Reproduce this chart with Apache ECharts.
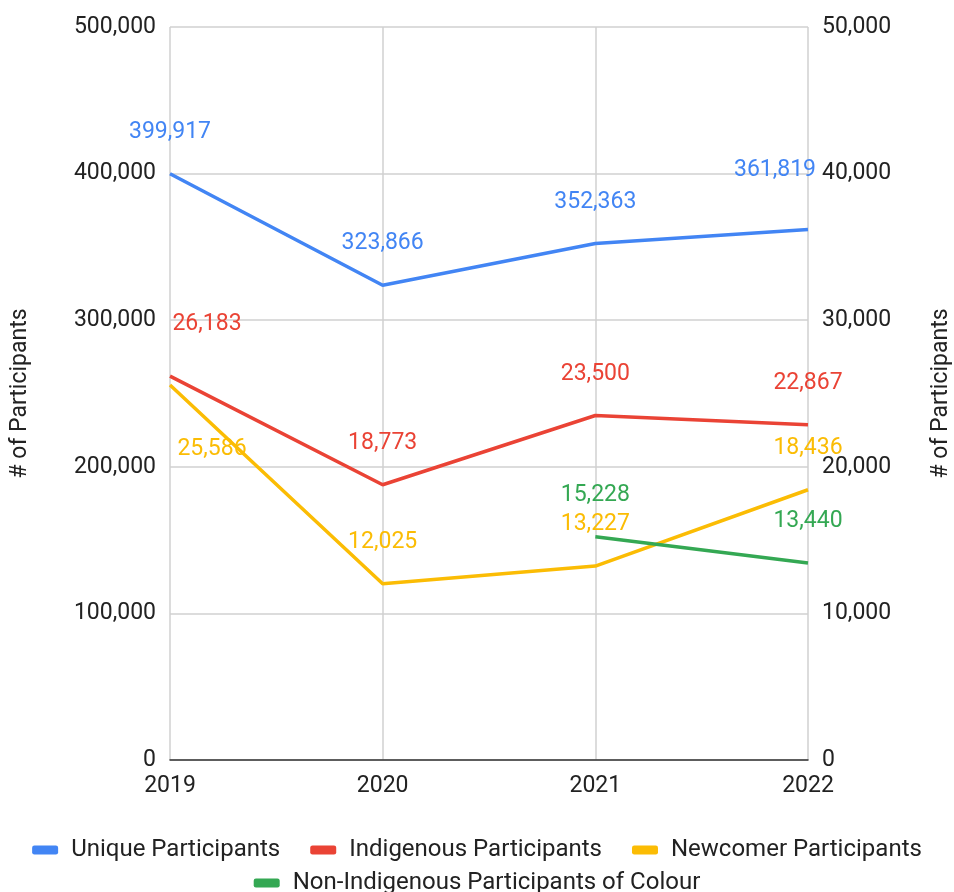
<!DOCTYPE html>
<html>
<head>
<meta charset="utf-8">
<script src="https://cdn.jsdelivr.net/npm/echarts@6/dist/echarts.min.js"></script>
<style>
html,body{margin:0;padding:0;background:#fff;overflow:hidden;}
#chart{width:954px;height:892px;}
</style>
</head>
<body>
<div id="chart"></div>
<script>
const years = ['2019', '2020', '2021', '2022'];
const uniqueParticipants = [399917, 323866, 352363, 361819];
const indigenousParticipants = [26183, 18773, 23500, 22867];
const newcomerParticipants = [25586, 12025, 13227, 18436];
const nonIndigenousPOC = [null, null, 15228, 13440];
const leftTicks = [0, 100000, 200000, 300000, 400000, 500000];
const rightTicks = [0, 10000, 20000, 30000, 40000, 50000];

// label nudges (styling only): 'seriesIndex-dataIndex' -> [dx, dy]
const labelNudges = {
  '0-3': [-33, -18],
  '1-0': [37, -10],
  '2-0': [42, 106]
};

const FONT = 'Roboto';
const fmt = v => Number(v).toLocaleString('en-US');

const colors = ['#4285F4', '#EA4335', '#FBBC04', '#34A853'];
const names = ['Unique Participants', 'Indigenous Participants', 'Newcomer Participants', 'Non-Indigenous Participants of Colour'];
const seriesValues = [uniqueParticipants, indigenousParticipants, newcomerParticipants, nonIndigenousPOC];
const axisIdx = [0, 1, 1, 1];

const el = document.getElementById('chart');
const chart = echarts.init(el, null, { renderer: 'canvas', width: 954, height: 892 });

const legendCommon = {
  orient: 'horizontal',
  icon: 'roundRect',
  itemWidth: 26,
  itemHeight: 9,
  itemGap: 30,
  textStyle: { fontFamily: FONT, fontSize: 24, color: '#222', padding: [0, 0, 0, 8] }
};

chart.setOption({
  animation: false,
  color: colors,
  grid: { left: 170, right: 146, top: 27, bottom: 132, containLabel: false, outerBoundsMode: 'none' },
  legend: [
    Object.assign({}, legendCommon, { left: 'center', top: 833, data: names.slice(0, 3) }),
    Object.assign({}, legendCommon, { left: 'center', top: 866, data: names.slice(3) })
  ],
  xAxis: {
    type: 'category',
    data: years,
    boundaryGap: false,
    axisLine: { show: true, lineStyle: { color: '#333', width: 1.5 } },
    axisTick: { show: false },
    axisLabel: { fontFamily: FONT, fontSize: 23, color: '#222', margin: 15 },
    splitLine: { show: true, lineStyle: { color: '#d0d0d0', width: 1.5 } }
  },
  yAxis: [
    {
      type: 'value', min: 0, max: 500000, interval: 100000, position: 'left',
      name: '# of Participants', nameLocation: 'middle', nameRotate: 90, nameGap: 138,
      nameTextStyle: { fontFamily: FONT, fontSize: 23, color: '#222' },
      axisLine: { show: false }, axisTick: { show: false },
      axisLabel: { fontFamily: FONT, fontSize: 23, color: '#222', margin: 14, formatter: v => fmt(v) },
      splitLine: { show: true, lineStyle: { color: '#d0d0d0', width: 1.5 } }
    },
    {
      type: 'value', min: 0, max: 50000, interval: 10000, position: 'right',
      name: '# of Participants', nameLocation: 'middle', nameRotate: 90, nameGap: 122,
      nameTextStyle: { fontFamily: FONT, fontSize: 23, color: '#222' },
      axisLine: { show: false }, axisTick: { show: false },
      axisLabel: { fontFamily: FONT, fontSize: 23, color: '#222', margin: 14, formatter: v => fmt(v) },
      splitLine: { show: false }
    }
  ],
  series: seriesValues.map((vals, si) => ({
    name: names[si],
    type: 'line',
    yAxisIndex: axisIdx[si],
    data: vals,
    showSymbol: true,
    symbol: 'circle',
    symbolSize: 0.01,
    connectNulls: false,
    lineStyle: { width: 3.5, color: colors[si] },
    itemStyle: { color: colors[si] },
    label: {
      show: true,
      position: 'top',
      distance: 30,
      fontFamily: FONT,
      fontSize: 23,
      color: colors[si],
      formatter: p => fmt(p.value)
    },
    labelLayout: function (params) {
      const n = labelNudges[params.seriesIndex + '-' + params.dataIndex];
      return n ? { dx: n[0], dy: n[1], hideOverlap: false } : { hideOverlap: false };
    }
  }))
});
</script>
</body>
</html>
